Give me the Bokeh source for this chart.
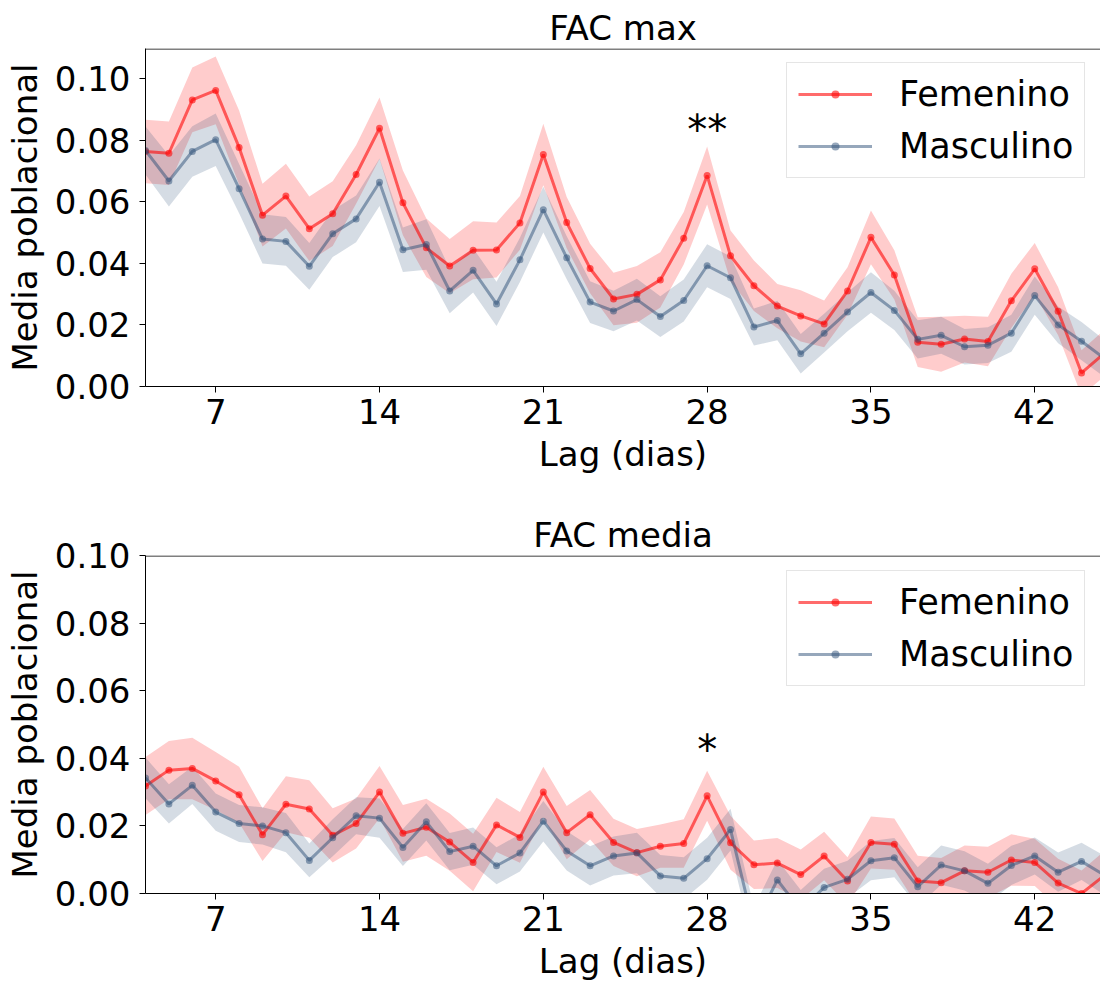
from bokeh.plotting import figure
from bokeh.layouts import column
from bokeh.models import FixedTicker, NumeralTickFormatter, Span, Range1d
from bokeh.core.properties import value
from bokeh.embed import file_html
from bokeh.resources import INLINE

# ---------------- data ----------------
lags = list(range(4, 46))

max_fem = [0.0763, 0.0757, 0.0930, 0.0961, 0.0776, 0.0556, 0.0618, 0.0512, 0.0561, 0.0688,
           0.0838, 0.0596, 0.0450, 0.0391, 0.0442, 0.0443, 0.0531, 0.0753, 0.0532, 0.0383,
           0.0284, 0.0299, 0.0346, 0.0481, 0.0685, 0.0424, 0.0327, 0.0261, 0.0229, 0.0203,
           0.0310, 0.0484, 0.0362, 0.0144, 0.0137, 0.0154, 0.0146, 0.0278, 0.0382, 0.0244,
           0.0044, 0.0110]
max_fem_ci = [0.0103, 0.0103, 0.0105, 0.0110, 0.0120, 0.0102, 0.0105, 0.0105, 0.0105, 0.0095,
              0.0100, 0.0105, 0.0095, 0.0088, 0.0094, 0.0089, 0.0087, 0.0100, 0.0083, 0.0080,
              0.0085, 0.0092, 0.0090, 0.0085, 0.0094, 0.0082, 0.0082, 0.0072, 0.0083, 0.0076,
              0.0077, 0.0087, 0.0080, 0.0081, 0.0089, 0.0076, 0.0080, 0.0088, 0.0084, 0.0078,
              0.0074, 0.0075]
max_mas = [0.0766, 0.0667, 0.0763, 0.0801, 0.0642, 0.0479, 0.0471, 0.0390, 0.0496, 0.0544,
           0.0663, 0.0444, 0.0461, 0.0310, 0.0377, 0.0268, 0.0411, 0.0574, 0.0418, 0.0274,
           0.0245, 0.0282, 0.0227, 0.0279, 0.0392, 0.0353, 0.0193, 0.0214, 0.0106, 0.0173,
           0.0242, 0.0305, 0.0247, 0.0153, 0.0166, 0.0129, 0.0134, 0.0173, 0.0295, 0.0200,
           0.0147, 0.0090]
max_mas_ci = [0.0078, 0.0083, 0.0082, 0.0085, 0.0080, 0.0080, 0.0079, 0.0076, 0.0076, 0.0076,
              0.0077, 0.0072, 0.0082, 0.0072, 0.0072, 0.0072, 0.0072, 0.0074, 0.0070, 0.0068,
              0.0066, 0.0068, 0.0066, 0.0068, 0.0070, 0.0069, 0.0060, 0.0064, 0.0064, 0.0063,
              0.0063, 0.0066, 0.0064, 0.0062, 0.0060, 0.0058, 0.0058, 0.0060, 0.0062, 0.0060,
              0.0062, 0.0060]

med_fem = [0.0318, 0.0365, 0.0370, 0.0333, 0.0292, 0.0174, 0.0264, 0.0250, 0.0172, 0.0207,
           0.0300, 0.0178, 0.0196, 0.0152, 0.0092, 0.0203, 0.0166, 0.0300, 0.0180, 0.0233,
           0.0151, 0.0121, 0.0140, 0.0148, 0.0289, 0.0150, 0.0085, 0.0090, 0.0056, 0.0111,
           0.0037, 0.0151, 0.0146, 0.0037, 0.0032, 0.0067, 0.0063, 0.0099, 0.0092, 0.0031,
           0.0000, 0.0055]
med_fem_ci = [0.0086, 0.0086, 0.0091, 0.0086, 0.0083, 0.0078, 0.0083, 0.0085, 0.0080, 0.0074,
              0.0077, 0.0084, 0.0084, 0.0085, 0.0085, 0.0080, 0.0075, 0.0075, 0.0079, 0.0073,
              0.0070, 0.0070, 0.0064, 0.0072, 0.0074, 0.0080, 0.0072, 0.0074, 0.0074, 0.0072,
              0.0070, 0.0077, 0.0076, 0.0075, 0.0073, 0.0075, 0.0075, 0.0076, 0.0070, 0.0072,
              0.0068, 0.0072]
med_mas = [0.0342, 0.0265, 0.0320, 0.0241, 0.0207, 0.0200, 0.0180, 0.0098, 0.0165, 0.0230,
           0.0223, 0.0136, 0.0212, 0.0124, 0.0140, 0.0082, 0.0120, 0.0214, 0.0126, 0.0082,
           0.0111, 0.0120, 0.0052, 0.0045, 0.0103, 0.0189, -0.0100, 0.0040, -0.0050, 0.0018,
           0.0042, 0.0097, 0.0106, 0.0020, 0.0084, 0.0067, 0.0030, 0.0083, 0.0111, 0.0063,
           0.0095, 0.0053]
med_mas_ci = [0.0060, 0.0058, 0.0055, 0.0055, 0.0055, 0.0055, 0.0058, 0.0050, 0.0055, 0.0055,
              0.0058, 0.0055, 0.0055, 0.0055, 0.0055, 0.0055, 0.0055, 0.0060, 0.0058, 0.0058,
              0.0058, 0.0060, 0.0062, 0.0062, 0.0062, 0.0062, 0.0060, 0.0060, 0.0060, 0.0055,
              0.0055, 0.0058, 0.0058, 0.0058, 0.0058, 0.0058, 0.0058, 0.0058, 0.0055, 0.0058,
              0.0055, 0.0058]

x_ticks = [7, 14, 21, 28, 35, 42]
y_ticks = [0.0, 0.02, 0.04, 0.06, 0.08, 0.10]
series_labels = ["Femenino", "Masculino"]
titles = ["FAC max", "FAC media"]
star_lag = [28]
star_text_max = ["**"]
star_text_med = ["*"]

# ---------------- styling ----------------
FONT = "DejaVu Sans"
RED = "#ff0000"
BLUE = "#2d4f78"
FRAME_H = 338


def panel(title, ymax, fem, fem_ci, mas, mas_ci, star_text, star_y,
          height, top, bottom, legend_y):
    p = figure(width=1100, height=height,
               x_range=Range1d(4, 44.81), y_range=Range1d(0, ymax),
               output_backend="svg", toolbar_location=None,
               min_border_left=145, min_border_right=0,
               min_border_top=top, min_border_bottom=bottom)
    p.outline_line_color = None
    p.xgrid.visible = False
    p.ygrid.visible = False
    p.background_fill_color = "white"
    p.border_fill_color = "white"

    p.title.text = title
    p.title.align = "center"
    p.title.text_font = FONT
    p.title.text_font_size = "34px"
    p.title.text_font_style = "normal"
    p.title.text_color = "black"
    p.title.standoff = 2

    fem_lo = [m - c for m, c in zip(fem, fem_ci)]
    fem_hi = [m + c for m, c in zip(fem, fem_ci)]
    mas_lo = [m - c for m, c in zip(mas, mas_ci)]
    mas_hi = [m + c for m, c in zip(mas, mas_ci)]

    p.varea(x=lags, y1=fem_lo, y2=fem_hi, fill_color=RED, fill_alpha=0.2)
    p.varea(x=lags, y1=mas_lo, y2=mas_hi, fill_color=BLUE, fill_alpha=0.2)

    p.line(lags, fem, line_color=RED, line_alpha=0.58, line_width=3,
           legend_label=series_labels[0])
    p.scatter(lags, fem, size=7, fill_color=RED, fill_alpha=0.58, line_color=None,
              legend_label=series_labels[0])
    p.line(lags, mas, line_color=BLUE, line_alpha=0.5, line_width=3,
           legend_label=series_labels[1])
    p.scatter(lags, mas, size=7, fill_color=BLUE, fill_alpha=0.5, line_color=None,
              legend_label=series_labels[1])

    p.text(x=star_lag, y=[star_y], text=star_text, text_align="center",
           text_baseline="alphabetic", text_font=value(FONT),
           text_font_size="40px", text_color="black")

    # top spine, nudged half a pixel inward so it renders crisp
    p.add_layout(Span(location=ymax - 0.5 * ymax / FRAME_H, dimension="width",
                      line_color="black", line_width=1))

    for ax in (p.xaxis[0], p.yaxis[0]):
        ax.axis_line_color = "black"
        ax.axis_line_width = 1
        ax.major_tick_line_color = "black"
        ax.major_tick_in = 0
        ax.major_tick_out = 6
        ax.minor_tick_line_color = None
        ax.major_label_text_font = FONT
        ax.major_label_text_font_size = "34px"
        ax.major_label_text_color = "black"
        ax.axis_label_text_font = FONT
        ax.axis_label_text_font_size = "34px"
        ax.axis_label_text_font_style = "normal"
        ax.axis_label_text_color = "black"

    p.xaxis.ticker = FixedTicker(ticks=x_ticks)
    p.yaxis.ticker = FixedTicker(ticks=y_ticks)
    p.yaxis.formatter = NumeralTickFormatter(format="0.00")
    p.xaxis.axis_label = "Lag (dias)"
    p.yaxis.axis_label = "Media poblacional"
    p.xaxis.major_label_standoff = 6
    p.xaxis.axis_label_standoff = 7
    p.yaxis.major_label_standoff = 9
    p.yaxis.axis_label_standoff = 7

    lg = p.legend[0]
    lg.location = (641, legend_y)
    lg.margin = 0
    lg.padding = 11
    lg.spacing = 12
    lg.glyph_width = 74
    lg.glyph_height = 20
    lg.label_standoff = 27
    lg.label_text_font = FONT
    lg.label_text_font_size = "35px"
    lg.label_text_color = "black"
    lg.border_line_color = "#cccccc"
    lg.border_line_width = 1
    lg.background_fill_color = "white"
    lg.background_fill_alpha = 0.8
    return p


p1 = panel(titles[0], 0.1097, max_fem, max_fem_ci, max_mas, max_mas_ci,
           star_text_max, 0.0834, height=490, top=48, bottom=104, legend_y=208)
p2 = panel(titles[1], 0.10, med_fem, med_fem_ci, med_mas, med_mas_ci,
           star_text_med, 0.0426, height=493, top=65, bottom=90, legend_y=207)

layout = column(p1, p2, spacing=0)
open("out.html", "w").write(file_html(layout, INLINE))
